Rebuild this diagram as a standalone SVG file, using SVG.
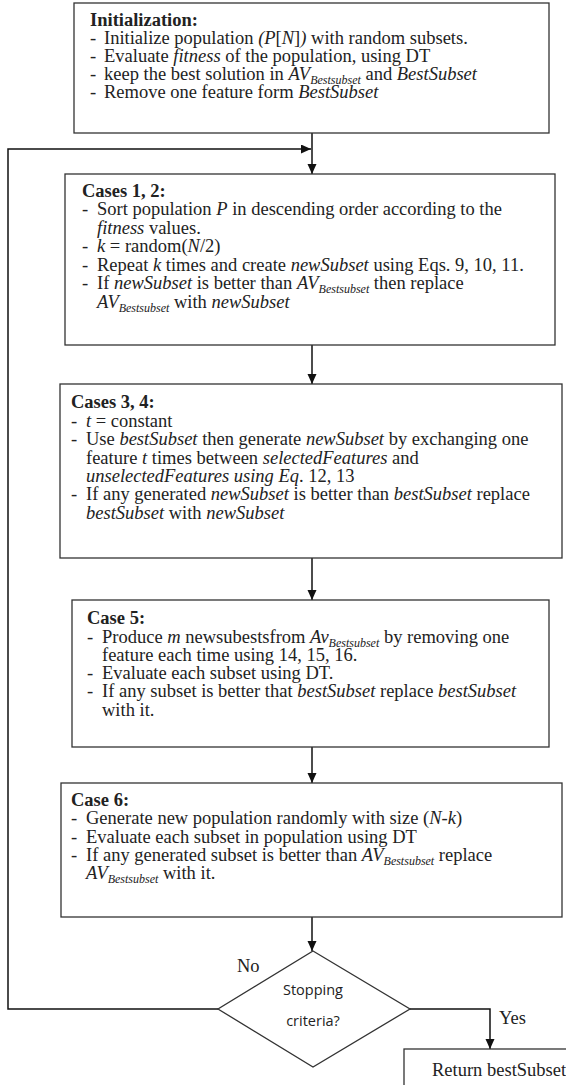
<svg xmlns="http://www.w3.org/2000/svg" width="566" height="1085" viewBox="0 0 566 1085">
  <style>
    .box { fill: #fff; stroke: #333; stroke-width: 1.3; }
    .t { font-family: "Liberation Serif", "Times New Roman", serif; font-size: 18.5px; fill: #222; }
    .b { font-weight: bold; }
    .i { font-style: italic; }
    .sub { font-style: italic; font-size: 12px; }
    .conn { fill: none; stroke: #111; stroke-width: 1.5; }
    .dec { font-family: "Open Sans", "Noto Sans", sans-serif; font-size: 14.5px; fill: #222; }
  </style>
  <defs>
    <marker id="arrow" markerUnits="userSpaceOnUse" markerWidth="10" markerHeight="10" refX="10" refY="4.5" orient="auto">
      <path d="M0,0 L10,4.5 L0,9 z" fill="#111"/>
    </marker>
  </defs>

  <rect width="566" height="1085" fill="#fff"/>

  <!-- connectors -->
  <g id="connectors">
    <line class="conn" x1="312" y1="133" x2="312" y2="174" marker-end="url(#arrow)"/>
    <polyline class="conn" points="218,1009 8,1009 8,149 311,149" marker-end="url(#arrow)"/>
    <line class="conn" x1="312" y1="345" x2="312" y2="384" marker-end="url(#arrow)"/>
    <line class="conn" x1="312" y1="558" x2="312" y2="600" marker-end="url(#arrow)"/>
    <line class="conn" x1="312" y1="747" x2="312" y2="783" marker-end="url(#arrow)"/>
    <line class="conn" x1="312" y1="917" x2="312" y2="951" marker-end="url(#arrow)"/>
    <polyline class="conn" points="410,1009 490,1009 490,1049" marker-end="url(#arrow)"/>
    <text class="t" x="237" y="972">No</text>
    <text class="t" x="499" y="1024">Yes</text>
  </g>

  <!-- initialization -->
  <g id="init">
    <rect class="box" x="74" y="3" width="475" height="130"/>
    <text class="t b" x="90" y="26">Initialization:</text>
    <text class="t" x="90" y="44">-</text>
    <text class="t" x="104" y="44">Initialize population <tspan class="i">(P</tspan>[<tspan class="i">N</tspan>]<tspan class="i">)</tspan> with random subsets.</text>
    <text class="t" x="90" y="62">-</text>
    <text class="t" x="104" y="62">Evaluate <tspan class="i">fitness</tspan> of the population, using DT</text>
    <text class="t" x="90" y="80">-</text>
    <text class="t" x="104" y="80">keep the best solution in <tspan class="i">AV</tspan><tspan class="sub" dy="4">Bestsubset</tspan><tspan dy="-4"> and </tspan><tspan class="i">BestSubset</tspan></text>
    <text class="t" x="90" y="98">-</text>
    <text class="t" x="104" y="98">Remove one feature form <tspan class="i">BestSubset</tspan></text>
  </g>

  <!-- cases 1, 2 -->
  <g id="cases12">
    <rect class="box" x="65" y="174" width="490" height="171"/>
    <text class="t b" x="82" y="197">Cases 1, 2:</text>
    <text class="t" x="82" y="215">-</text>
    <text class="t" x="97" y="215">Sort population <tspan class="i">P</tspan> in descending order according to the</text>
    <text class="t i" x="97" y="234">fitness <tspan font-style="normal">values.</tspan></text>
    <text class="t" x="82" y="252">-</text>
    <text class="t" x="97" y="252"><tspan class="i">k</tspan> = random(<tspan class="i">N</tspan>/2)</text>
    <text class="t" x="82" y="271">-</text>
    <text class="t" x="97" y="271">Repeat <tspan class="i">k</tspan> times and create <tspan class="i">newSubset</tspan> using Eqs. 9, 10, 11.</text>
    <text class="t" x="82" y="289">-</text>
    <text class="t" x="97" y="289">If <tspan class="i">newSubset</tspan> is better than <tspan class="i">AV</tspan><tspan class="sub" dy="4">Bestsubset</tspan><tspan dy="-4"> then replace</tspan></text>
    <text class="t" x="97" y="308"><tspan class="i">AV</tspan><tspan class="sub" dy="4">Bestsubset</tspan><tspan dy="-4"> with </tspan><tspan class="i">newSubset</tspan></text>
  </g>

  <!-- cases 3, 4 -->
  <g id="cases34">
    <rect class="box" x="60" y="384" width="502" height="174"/>
    <text class="t b" x="71" y="408">Cases 3, 4:</text>
    <text class="t" x="71" y="427">-</text>
    <text class="t" x="86" y="427"><tspan class="i">t</tspan> = constant</text>
    <text class="t" x="71" y="445">-</text>
    <text class="t" x="86" y="445">Use <tspan class="i">bestSubset</tspan> then generate <tspan class="i">newSubset</tspan> by exchanging one</text>
    <text class="t" x="86" y="464">feature <tspan class="i">t</tspan> times between <tspan class="i">selectedFeatures</tspan> and</text>
    <text class="t" x="86" y="482"><tspan class="i">unselectedFeatures using Eq</tspan>. 12, 13</text>
    <text class="t" x="71" y="500">-</text>
    <text class="t" x="86" y="500">If any generated <tspan class="i">newSubset</tspan> is better than <tspan class="i">bestSubset</tspan> replace</text>
    <text class="t" x="86" y="519"><tspan class="i">bestSubset</tspan> with <tspan class="i">newSubset</tspan></text>
  </g>

  <!-- case 5 -->
  <g id="case5">
    <rect class="box" x="72" y="600" width="477" height="147"/>
    <text class="t b" x="87" y="624">Case 5:</text>
    <text class="t" x="87" y="643">-</text>
    <text class="t" x="102" y="643">Produce <tspan class="i">m</tspan> newsubestsfrom <tspan class="i">Av</tspan><tspan class="sub" dy="4">Bestsubset</tspan><tspan dy="-4"> by removing one</tspan></text>
    <text class="t" x="102" y="661">feature each time using 14, 15, 16.</text>
    <text class="t" x="87" y="679">-</text>
    <text class="t" x="102" y="679">Evaluate each subset using DT.</text>
    <text class="t" x="87" y="697">-</text>
    <text class="t" x="102" y="697">If any subset is better that <tspan class="i">bestSubset</tspan> replace <tspan class="i">bestSubset</tspan></text>
    <text class="t" x="102" y="716">with it.</text>
  </g>

  <!-- case 6 -->
  <g id="case6">
    <rect class="box" x="61" y="783" width="501" height="134"/>
    <text class="t b" x="71" y="806">Case 6:</text>
    <text class="t" x="71" y="824">-</text>
    <text class="t" x="86" y="824">Generate new population randomly with size (<tspan class="i">N</tspan>-<tspan class="i">k</tspan>)</text>
    <text class="t" x="71" y="843">-</text>
    <text class="t" x="86" y="843">Evaluate each subset in population using DT</text>
    <text class="t" x="71" y="861">-</text>
    <text class="t" x="86" y="861">If any generated subset is better than <tspan class="i">AV</tspan><tspan class="sub" dy="4">Bestsubset</tspan><tspan dy="-4"> replace</tspan></text>
    <text class="t" x="86" y="879"><tspan class="i">AV</tspan><tspan class="sub" dy="4">Bestsubset</tspan><tspan dy="-4"> with it.</tspan></text>
  </g>

  <!-- stopping decision -->
  <g id="decision">
    <polygon class="box" points="313,951 410,1009 313,1067 218,1009"/>
    <text class="dec" x="313" y="995" text-anchor="middle">Stopping</text>
    <text class="dec" x="313" y="1026" text-anchor="middle">criteria?</text>
  </g>

  <!-- result -->
  <g id="result">
    <rect class="box" x="404" y="1049" width="170" height="50"/>
    <text class="t" x="432" y="1076" font-size="15.6">Return bestSubset</text>
  </g>
</svg>
